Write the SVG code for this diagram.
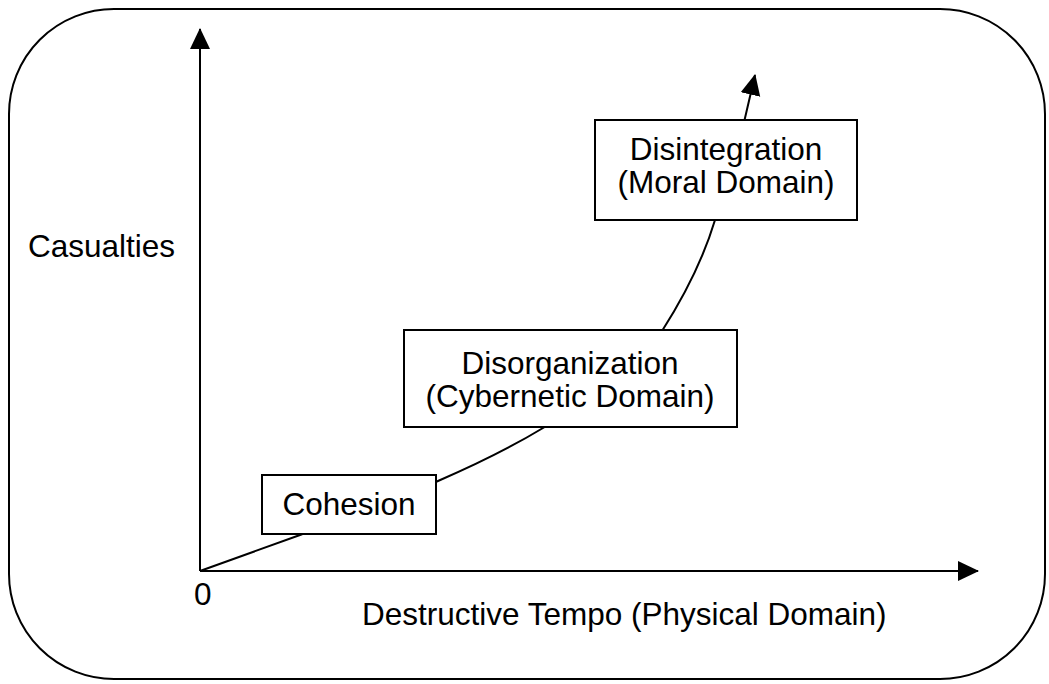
<svg xmlns="http://www.w3.org/2000/svg" width="1049" height="684" viewBox="0 0 1049 684">
<style>
.ln{fill:none;stroke:#000;stroke-width:2}
.box{fill:#fff;stroke:#000;stroke-width:2}
text{font-family:"Liberation Sans",Arial,sans-serif;font-size:31.5px;fill:#000}
.c{text-anchor:middle}
</style>
<defs>
<marker id="ah" markerUnits="userSpaceOnUse" markerWidth="22" markerHeight="22" viewBox="0 0 22 22" refX="20" refY="11" orient="auto">
<path d="M0,1 L21,11 L0,21 Z" fill="#000"/>
</marker>
</defs>
<rect x="9" y="9" width="1036" height="670" rx="105" ry="105" class="ln"/>
<g id="connectors">
<path class="ln" d="M200,571 L200,29" marker-end="url(#ah)"/>
<path class="ln" d="M200,571 L978,571" marker-end="url(#ah)"/>
<path class="ln" d="M200,571 L300,535 C360,512 400,498 438,481 C475,465 510,448 543,428 C600,395 640,370 662,331 C685,295 703,260 715,220 C730,180 740,140 745,118 L755,75" marker-end="url(#ah)"/>
</g>
<g id="cohesion">
<rect class="box" x="262" y="475" width="174" height="59"/>
<text class="c" x="349" y="515">Cohesion</text>
</g>
<g id="disorganization">
<rect class="box" x="404" y="330" width="333" height="97"/>
<text class="c" x="570" y="374">Disorganization</text>
<text class="c" x="570" y="407">(Cybernetic Domain)</text>
</g>
<g id="disintegration">
<rect class="box" x="595" y="120" width="262" height="100"/>
<text class="c" x="726" y="160">Disintegration</text>
<text class="c" x="726" y="193">(Moral Domain)</text>
</g>
<g id="labels">
<text x="28" y="257">Casualties</text>
<text x="194" y="605">0</text>
<text x="362" y="625">Destructive Tempo (Physical Domain)</text>
</g>
</svg>
